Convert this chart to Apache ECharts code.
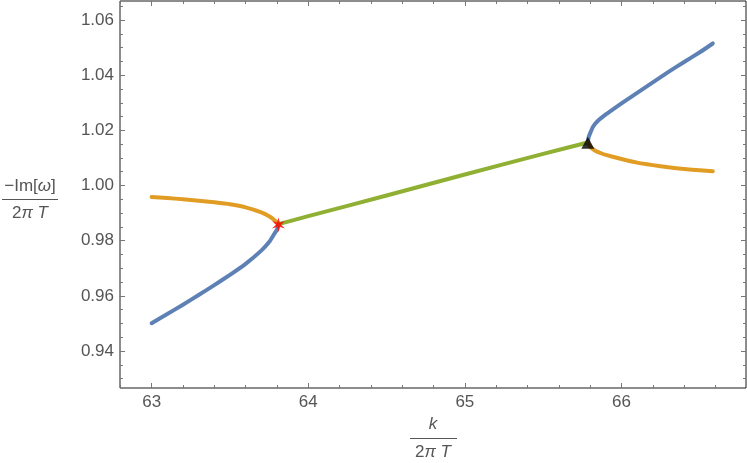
<!DOCTYPE html>
<html>
<head>
<meta charset="utf-8">
<script src="https://cdn.jsdelivr.net/npm/echarts@6/dist/echarts.min.js"></script>
<style>
html,body{margin:0;padding:0;background:#fff;}
#c{width:747px;height:463px;}
</style>
</head>
<body>
<div id="c"></div>
<script>
// ---- data ----
const X_TICKS = [63, 64, 65, 66];
const Y_TICKS = [0.94, 0.96, 0.98, 1.00, 1.02, 1.04, 1.06];

const blueLowK   = [63.0, 63.1, 63.2, 63.3, 63.4, 63.5, 63.6, 63.7, 63.75, 63.78, 63.8, 63.81];
const blueLowV   = [0.9501, 0.9534, 0.9568, 0.9603, 0.9639, 0.9676, 0.9716, 0.9764, 0.9795, 0.9822, 0.9840, 0.9858];
const orangeLowK = [63.0, 63.1, 63.2, 63.3, 63.4, 63.5, 63.6, 63.7, 63.75, 63.78, 63.8, 63.81];
const orangeLowV = [0.9958, 0.9955, 0.9950, 0.9945, 0.9939, 0.9932, 0.9921, 0.9903, 0.9889, 0.9877, 0.9867, 0.9858];
const greenK     = [63.81, 64.0, 64.5, 65.0, 65.5, 65.785];
const greenV     = [0.9860, 0.9889, 0.9964, 1.0040, 1.0115, 1.0156];
const blueUpK    = [65.785, 65.79, 65.80, 65.82, 65.85, 65.90, 65.95, 66.0, 66.1, 66.2, 66.3, 66.4, 66.5, 66.583];
const blueUpV    = [1.0156, 1.0175, 1.0190, 1.0215, 1.0235, 1.0258, 1.0278, 1.0298, 1.0336, 1.0374, 1.0412, 1.0448, 1.0483, 1.0515];
const orangeUpK  = [65.785, 65.80, 65.83, 65.87, 65.90, 66.0, 66.1, 66.2, 66.3, 66.4, 66.5, 66.583];
const orangeUpV  = [1.0156, 1.0140, 1.0127, 1.0117, 1.0111, 1.0096, 1.0083, 1.0074, 1.0066, 1.0060, 1.0055, 1.0052];
const starPoint  = [63.81, 0.9858];
const trianglePoint = [65.785, 1.0155];

// ---- helpers ----
const zip = (a, b) => a.map((v, i) => [v, b[i]]);
const XMIN = 62.798, XMAX = 66.795, YMIN = 0.9266, YMAX = 1.0669;
const xMinor = [], yMinor = [];
for (let i = 0; i <= 20; i++) { const v = +(62.8 + i * 0.2).toFixed(2); if (v <= XMAX && !X_TICKS.some(t => Math.abs(t - v) < 1e-6)) xMinor.push(v); }
for (let i = 0; i <= 30; i++) { const v = +(0.93 + i * 0.005).toFixed(3); if (v <= YMAX && !Y_TICKS.some(t => Math.abs(t - v) < 1e-6)) yMinor.push(v); }

const BLUE = '#5E81B5', ORANGE = '#E19C24', GREEN = '#8FB032';
const TICKC = '#777', LABC = '#555';
const FONT = '"Liberation Sans", Arial, sans-serif';
const FS = 17;

function xAx(pos, vals, len, labels) {
  return {
    type: 'value', position: pos, min: XMIN, max: XMAX,
    axisLine: { show: false }, splitLine: { show: false },
    axisTick: { show: true, inside: true, length: len, customValues: vals, lineStyle: { color: TICKC, width: 1 } },
    axisLabel: labels ? { show: true, customValues: vals, margin: 6, color: LABC, fontSize: FS, fontFamily: FONT } : { show: false }
  };
}
function yAx(pos, vals, len, labels) {
  return {
    type: 'value', position: pos, min: YMIN, max: YMAX,
    axisLine: { show: false }, splitLine: { show: false },
    axisTick: { show: true, inside: true, length: len, customValues: vals, lineStyle: { color: TICKC, width: 1 } },
    axisLabel: labels ? { show: true, customValues: vals, margin: 6, color: LABC, fontSize: FS, fontFamily: FONT,
      formatter: v => v.toFixed(2) } : { show: false }
  };
}
function line(data, color) {
  return { type: 'line', data: data, showSymbol: false, symbol: 'none', smooth: 0.12,
    lineStyle: { color: color, width: 4, cap: 'round', join: 'round' }, silent: true, z: 2 };
}

const STAR = 'path://M0 -10 L1.75 -3.03 L8.66 -5 L3.5 0 L8.66 5 L1.75 3.03 L0 10 L-1.75 3.03 L-8.66 5 L-3.5 0 L-8.66 -5 L-1.75 -3.03 Z';
const rich = { a: { fontSize: FS, fontFamily: FONT, fill: LABC }, b: { fontSize: FS, fontFamily: FONT, fontStyle: 'italic', fill: LABC } };

const chart = echarts.init(document.getElementById('c'), null, { renderer: 'canvas' });
chart.setOption({
  animation: false,
  backgroundColor: '#fff',
  grid: { left: 120, right: 1, top: 1, bottom: 75, show: true, borderColor: '#1a1a1a', borderWidth: 1, backgroundColor: 'transparent' },
  xAxis: [xAx('bottom', X_TICKS, 5, true), xAx('bottom', xMinor, 3, false), xAx('top', X_TICKS, 5, false), xAx('top', xMinor, 3, false)],
  yAxis: [yAx('left', Y_TICKS, 5, true), yAx('left', yMinor, 3, false), yAx('right', Y_TICKS, 5, false), yAx('right', yMinor, 3, false)],
  series: [
    line(zip(blueLowK, blueLowV), BLUE),
    line(zip(orangeLowK, orangeLowV), ORANGE),
    line(zip(greenK, greenV), GREEN),
    line(zip(blueUpK, blueUpV), BLUE),
    line(zip(orangeUpK, orangeUpV), ORANGE),
    { type: 'scatter', data: [starPoint], symbol: STAR, symbolSize: 15, symbolKeepAspect: true,
      itemStyle: { color: '#ff0000' }, z: 5, silent: true },
    { type: 'scatter', data: [trianglePoint], symbol: 'triangle', symbolSize: [13, 12],
      itemStyle: { color: '#000' }, z: 5, silent: true }
  ],
  graphic: [
    { type: 'text', x: 433, y: 424, style: { text: 'k', fontSize: FS, fontStyle: 'italic', fontFamily: FONT, fill: LABC, align: 'center', verticalAlign: 'middle' } },
    { type: 'line', shape: { x1: 410, y1: 438.5, x2: 457, y2: 438.5 }, style: { stroke: LABC, lineWidth: 1 } },
    { type: 'text', x: 433, y: 452, style: { text: '{a|2}{b|π T}', fontSize: FS, fontFamily: FONT, fill: LABC, align: 'center', verticalAlign: 'middle', rich: rich } },
    { type: 'text', x: 30, y: 186, style: { text: '{a|−Im[}{b|ω}{a|]}', fontSize: FS, fontFamily: FONT, fill: LABC, align: 'center', verticalAlign: 'middle', rich: rich } },
    { type: 'line', shape: { x1: 2, y1: 199.5, x2: 58, y2: 199.5 }, style: { stroke: LABC, lineWidth: 1 } },
    { type: 'text', x: 30, y: 213, style: { text: '{a|2}{b|π T}', fontSize: FS, fontFamily: FONT, fill: LABC, align: 'center', verticalAlign: 'middle', rich: rich } }
  ]
});
</script>
</body>
</html>
